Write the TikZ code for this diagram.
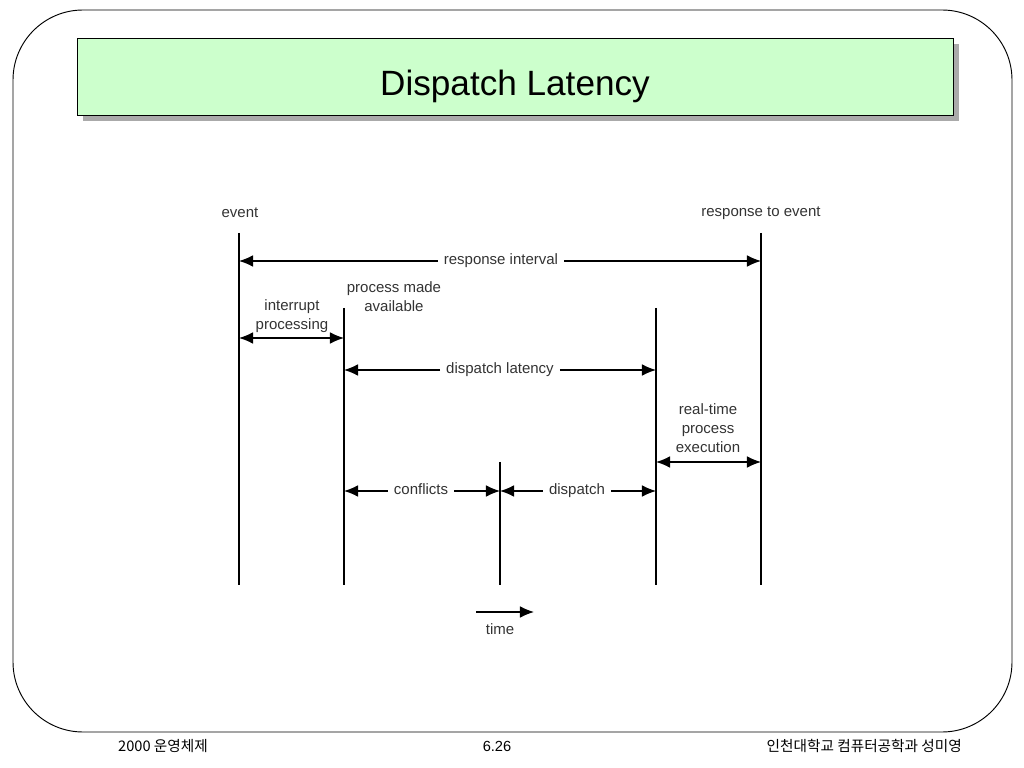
\documentclass[tikz,border=0pt]{standalone}
\usepackage{fontspec}
\setmainfont{Liberation Sans}
\newfontfamily\krfont{Noto Sans CJK KR}
\usetikzlibrary{arrows.meta}
\definecolor{titlegreen}{RGB}{204,255,204}
\definecolor{shadowgray}{RGB}{170,170,170}
\begin{document}
\begin{tikzpicture}[x=0.03cm,y=-0.03cm,
  every node/.style={font=\fontsize{12.8}{16}\selectfont, text=black!80, align=center},
  vline/.style={line width=1.1pt},
  dimarrow/.style={line width=1.1pt, -{Latex[length=12pt,width=10pt]}},
  onlabel/.style={fill=white, inner xsep=5pt, inner ysep=1pt, text height=1.6ex, text depth=0.45ex}]
\useasboundingbox (0,0) rectangle (1024,768);
\draw[line width=0.8pt, rounded corners=2.1cm] (13,10) rectangle (1012,732);
\fill[shadowgray] (83,44) rectangle (959,121);
\draw[fill=titlegreen, line width=0.8pt] (77,38) rectangle (953,115);
\node[font=\fontsize{30}{33}\selectfont, text=black] (title) at (515,86) {Dispatch Latency};

\coordinate (evT) at (239,233);
\coordinate (evB) at (239,585);
\coordinate (paT) at (344,308);
\coordinate (paB) at (344,585);
\coordinate (cfT) at (500,462);
\coordinate (cfB) at (500,585);
\coordinate (dpT) at (656,308);
\coordinate (dpB) at (656,585);
\coordinate (reT) at (761,233);
\coordinate (reB) at (761,585);
\draw[vline] (evT) -- (evB);
\draw[vline] (paT) -- (paB);
\draw[vline] (cfT) -- (cfB);
\draw[vline] (dpT) -- (dpB);
\draw[vline] (reT) -- (reB);

\node (event) at (240,213) {event};
\node (respevent) at (761,213) {response to event};
\node (interrupt) at (292,316) {interrupt\\processing};
\node (available) at (394,297) {process made\\available};
\node (realtime) at (708,428) {real-time\\process\\execution};

\node[onlabel] (respint) at (501,261) {response interval};
\node[onlabel] (latency) at (500,370) {dispatch latency};
\node[onlabel] (conflicts) at (421,491) {conflicts};
\node[onlabel] (dispatch) at (577,491) {dispatch};

\draw[dimarrow] (respint.west) -- (respint.west -| evT);
\draw[dimarrow] (respint.east) -- (respint.east -| reT);
\draw[dimarrow] (latency.west) -- (latency.west -| paT);
\draw[dimarrow] (latency.east) -- (latency.east -| dpT);
\draw[dimarrow] (conflicts.west) -- (conflicts.west -| paT);
\draw[dimarrow] (conflicts.east) -- (conflicts.east -| cfT);
\draw[dimarrow] (dispatch.west) -- (dispatch.west -| cfT);
\draw[dimarrow] (dispatch.east) -- (dispatch.east -| dpT);

\coordinate (ipmid) at (292,338);
\coordinate (rtmid) at (708,462);
\draw[dimarrow] (ipmid) -- (ipmid -| evT);
\draw[dimarrow] (ipmid) -- (ipmid -| paT);
\draw[dimarrow] (rtmid) -- (rtmid -| dpT);
\draw[dimarrow] (rtmid) -- (rtmid -| reT);

\coordinate (tstart) at (476,612);
\coordinate (tend) at (534,612);
\draw[dimarrow] (tstart) -- (tend);
\node (time) at (500,629) {time};

\node[font=\krfont\fontsize{12.5}{14}\selectfont, text=black, anchor=west] (course) at (114,746) {2000 운영체제};
\node[font=\fontsize{12.5}{14}\selectfont, text=black] (page) at (497,746) {6.26};
\node[font=\krfont\fontsize{12.5}{14}\selectfont, text=black, anchor=east] (author) at (966,746) {인천대학교 컴퓨터공학과 성미영};
\end{tikzpicture}
\end{document}
